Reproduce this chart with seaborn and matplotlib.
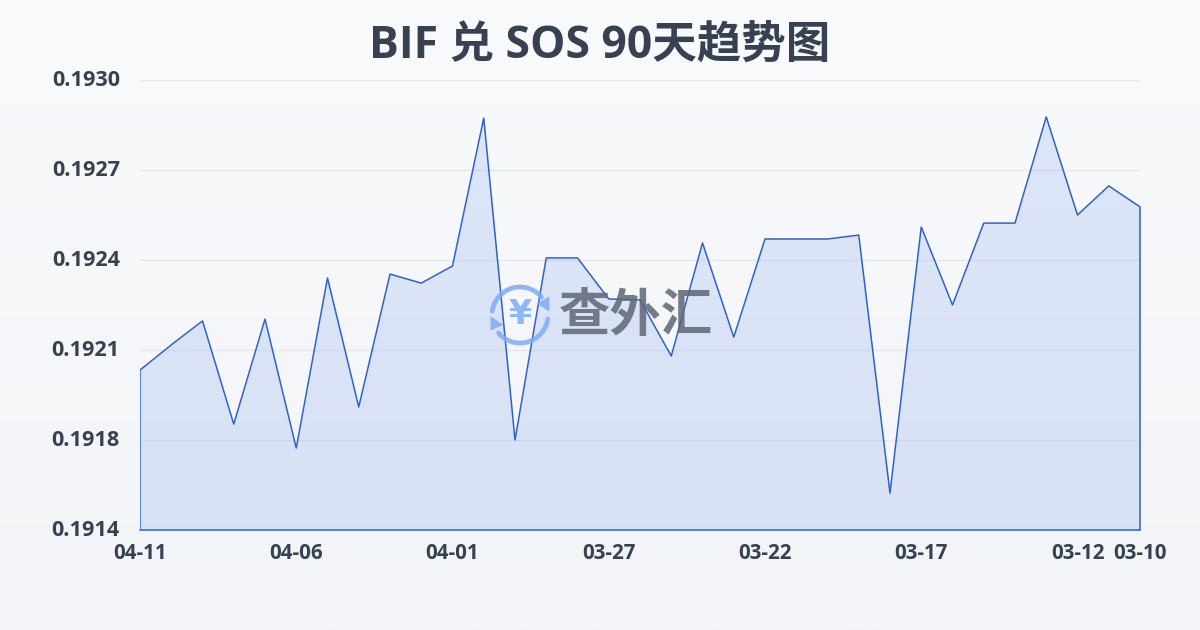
import numpy as np
import pandas as pd
import seaborn as sns
import matplotlib
matplotlib.use("Agg")
import matplotlib.pyplot as plt
from matplotlib.transforms import ScaledTranslation

dates = ["04-11","04-10","04-09","04-08","04-07","04-06","04-05","04-04","04-03","04-02","04-01",
         "03-31","03-30","03-29","03-28","03-27","03-26","03-25","03-24","03-23","03-22",
         "03-21","03-20","03-19","03-18","03-17","03-16","03-15","03-14","03-13","03-12","03-11","03-10"]
rates = [0.191983,0.192067,0.192147,0.191803,0.192153,0.191723,0.192290,0.191860,0.192303,0.192273,0.192330,
         0.192823,0.191750,0.192357,0.192357,0.192220,0.192217,0.192030,0.192407,0.192093,0.192420,
         0.192420,0.192420,0.192433,0.191573,0.192460,0.192200,0.192473,0.192473,0.192827,0.192500,0.192597,0.192527]
shown_labels = ["04-11","04-06","04-01","03-27","03-22","03-17","03-12","03-10"]
y_ticks = [0.19145,0.19175,0.19205,0.19235,0.19265,0.19295]
y_labels = ["0.1914","0.1918","0.1921","0.1924","0.1927","0.1930"]
title = "BIF 兑 SOS 90天趋势图"
watermark = "查外汇"

sns.set_theme(style="white")
fam = ["Open Sans", "Noto Sans CJK SC", "DejaVu Sans"]
plt.rcParams["font.family"] = fam
INK = "#374151"
LINE = "#2f62c9"

df = pd.DataFrame({"date": dates, "rate": rates, "pos": np.arange(len(dates))})

fig = plt.figure(figsize=(12, 6.3), dpi=100)

bg = fig.add_axes([0, 0, 1, 1], zorder=0)
bg.set_xlim(0, 1200); bg.set_ylim(630, 0); bg.axis("off")
grad = np.linspace(0, 1, 256).reshape(-1, 1)
cmap = matplotlib.colors.LinearSegmentedColormap.from_list("page", ["#f8fafc", "#f2f4f7"])
bg.imshow(grad, extent=[0, 1200, 630, 0], aspect="auto", cmap=cmap, zorder=0)

ax = fig.add_axes([140/1200, 100/630, 1000/1200, 450/630], zorder=1)
ax.patch.set_alpha(0)
ax.fill_between(df["pos"], df["rate"], y_ticks[0], color="#4a7be6", alpha=0.15, lw=0, zorder=2)
sns.lineplot(data=df, x="pos", y="rate", ax=ax, color=LINE, lw=1.1, zorder=3, errorbar=None)
ax.plot([0, 0], [y_ticks[0], rates[0]], color=LINE, lw=1.1, zorder=3)
ax.plot([len(rates)-1, len(rates)-1], [y_ticks[0], rates[-1]], color=LINE, lw=1.1, zorder=3, clip_on=False)
ax.plot([0, len(rates)-1], [y_ticks[0], y_ticks[0]], color=LINE, lw=1.1, zorder=3, clip_on=False)

ax.set_xlim(0, len(dates)-1)
ax.set_ylim(y_ticks[0], y_ticks[-1])
ax.set_yticks(y_ticks, y_labels)
ax.set_xticks([dates.index(d) for d in shown_labels], shown_labels)
ax.set_xlabel(""); ax.set_ylabel("")
ax.grid(axis="y", color="#e5e7ec", lw=1, zorder=1)
ax.grid(axis="x", visible=False)
ax.set_axisbelow(True)
for s in ax.spines.values():
    s.set_visible(False)
ax.tick_params(axis="y", length=0, pad=14.5, labelsize=15.6, labelcolor=INK)
ax.tick_params(axis="x", length=8, width=1, color="#e5e7ec", pad=1.5, labelsize=14.8, labelcolor=INK)
for lab in ax.get_xticklabels() + ax.get_yticklabels():
    lab.set_fontweight("bold")
shift_up = ScaledTranslation(0, 2/100, fig.dpi_scale_trans)
for lab in ax.get_yticklabels():
    lab.set_transform(lab.get_transform() + shift_up)

# translucent watermark on top of the chart, addressed in pixels
top = fig.add_axes([0, 0, 1, 1], zorder=2)
top.set_xlim(0, 1200); top.set_ylim(630, 0); top.axis("off"); top.patch.set_alpha(0)
ICON = "#7fabf8"
WA = 0.85
t = np.radians(np.linspace(40, 172, 40))
top.plot(520 + 28*np.cos(t), 315 - 28*np.sin(t), color=ICON, lw=3.4, alpha=WA, solid_capstyle="round")
top.plot(520 - 28*np.cos(t), 315 + 28*np.sin(t), color=ICON, lw=3.4, alpha=WA, solid_capstyle="round")
top.fill([549.5, 549.5, 536.5], [296.5, 311.5, 303.5], color=ICON, alpha=WA, lw=0)
top.fill([490.5, 490.5, 503.5], [316, 330.5, 325], color=ICON, alpha=WA, lw=0)
top.text(520, 314, "¥", fontsize=24, fontweight="bold", color=ICON, alpha=WA, ha="center", va="center",
         family=["DejaVu Sans"])
top.text(636, 315, watermark, fontsize=37, fontweight="bold", color="#5f6675", alpha=WA, ha="center", va="center",
         family=["Noto Sans CJK SC"])

fig.text(600/1200, 1 - 46/630, title, ha="center", va="center", fontsize=32, fontweight="bold", color=INK)

fig.savefig("out.png", dpi=100)
